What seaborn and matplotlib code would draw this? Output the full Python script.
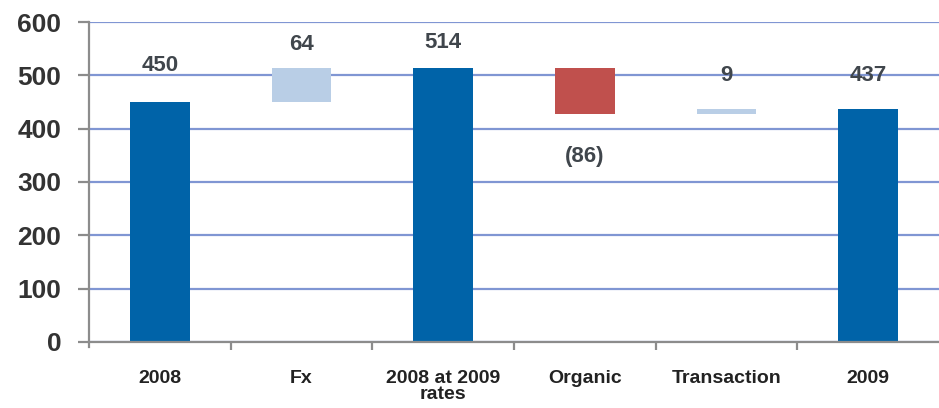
import numpy as np
import pandas as pd
import seaborn as sns
import matplotlib.pyplot as plt

# waterfall data
categories = ["2008", "Fx", "2008 at 2009\nrates", "Organic", "Transaction", "2009"]
deltas = [450, 64, 514, -86, 9, 437]
is_total = [True, False, True, False, False, True]
value_labels = ["450", "64", "514", "(86)", "9", "437"]

# where the value labels sit (in data units), as in the original slide
label_y = [518, 557, 562, 347, 500, 500]

# bar bottoms / heights for the floating bars
bottoms = []
heights = []
running = 0
for d, tot in zip(deltas, is_total):
    if tot:
        bottoms.append(0)
        heights.append(d)
        running = d
    else:
        lo = min(running, running + d)
        bottoms.append(lo)
        heights.append(abs(d))
        running = running + d

colors = []
for d, tot in zip(deltas, is_total):
    if tot:
        colors.append("#0063A8")
    elif d >= 0:
        colors.append("#B9CEE6")
    else:
        colors.append("#C0504D")

df = pd.DataFrame({"cat": categories, "h": heights})

sns.set_style("white")
plt.rcParams["font.family"] = ["Liberation Sans", "DejaVu Sans"]

fig = plt.figure(figsize=(9.39, 4.08), dpi=100)
ax = fig.add_axes([0.0948, 0.162, 0.9052, 0.784])

sns.barplot(data=df, x="cat", y="h", hue="cat", palette=colors, legend=False,
            width=0.42, ax=ax, saturation=1)

# lift the floating bars onto their bases
for patch, b in zip(ax.patches, bottoms):
    patch.set_y(b)
    patch.set_edgecolor("none")

for i, (txt, y) in enumerate(zip(value_labels, label_y)):
    ax.text(i, y, txt, ha="center", va="center", fontsize=16,
            fontweight="bold", color="#40464C")

ax.set_ylim(0, 600)
ax.set_xlim(-0.5, 5.5)
ax.set_yticks(np.arange(0, 601, 100))
ax.yaxis.grid(True, color="#8096D3", linewidth=1.6)
ax.set_axisbelow(True)
ax.set_xlabel("")
ax.set_ylabel("")

for s in ["top", "right"]:
    ax.spines[s].set_visible(False)
for s in ["left", "bottom"]:
    ax.spines[s].set_color("#8C8C8C")
    ax.spines[s].set_linewidth(1.6)
ax.spines["left"].set_bounds(-10, 600)

ax.tick_params(axis="y", left=True, length=8, width=1.6, color="#8C8C8C", pad=12,
               labelsize=19, labelcolor="#333333")
for t in ax.get_yticklabels():
    t.set_fontweight("bold")

ax.set_xticks(range(len(categories)))
ax.set_xticklabels(categories, fontsize=14, fontweight="bold", color="#222222",
                   linespacing=0.95)
ax.tick_params(axis="x", which="major", bottom=False, length=0, pad=20)
ax.set_xticks(np.arange(0.5, 5.0, 1.0), minor=True)
ax.tick_params(axis="x", which="minor", bottom=True, length=6, width=1.6,
               color="#8C8C8C")

fig.savefig("out.png", dpi=100)
